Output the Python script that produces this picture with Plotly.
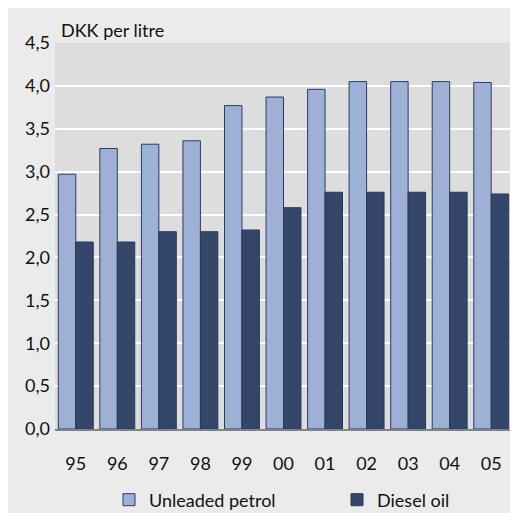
import plotly.graph_objects as go

years = ["95", "96", "97", "98", "99", "00", "01", "02", "03", "04", "05"]
unleaded_petrol = [2.97, 3.27, 3.32, 3.36, 3.77, 3.87, 3.96, 4.05, 4.05, 4.05, 4.04]
diesel_oil = [2.18, 2.18, 2.30, 2.30, 2.32, 2.58, 2.76, 2.76, 2.76, 2.76, 2.74]
y_ticks = [0, 0.5, 1.0, 1.5, 2.0, 2.5, 3.0, 3.5, 4.0, 4.5]

FONT = "Lato"
W, H = 510, 505
L, R, T, B = 47, 6, 35, 84
pw, ph = W - L - R, H - T - B

def px2x(px):
    return (px - L) / pw

def py2y(py):
    return (H - B - py) / ph

fig = go.Figure()
fig.add_trace(go.Bar(
    x=years, y=unleaded_petrol, name="Unleaded petrol", legend="legend",
    marker=dict(color="#9eb0d5", line=dict(color="#2e3d5c", width=1)),
))
fig.add_trace(go.Bar(
    x=years, y=diesel_oil, name="Diesel oil", legend="legend2",
    marker=dict(color="#344669", line=dict(color="#2a3856", width=1)),
))

fig.add_annotation(text="DKK per litre", xref="paper", yref="paper",
                   x=px2x(51), y=py2y(22), xanchor="left", yanchor="middle",
                   showarrow=False, font=dict(family=FONT, size=18, color="#111111"))

legend_common = dict(orientation="h", xanchor="left", yanchor="middle",
                     bgcolor="rgba(0,0,0,0)", font=dict(family=FONT, size=18, color="#111111"),
                     itemwidth=30)

fig.update_layout(
    width=W, height=H,
    margin=dict(l=L, r=R, t=T, b=B, pad=0, autoexpand=False),
    paper_bgcolor="#ebebeb", plot_bgcolor="#dddddd",
    barmode="group", bargap=0.16, bargroupgap=0.0,
    separators=",.",
    font=dict(family=FONT, size=17, color="#111111"),
    showlegend=True,
    legend=dict(x=px2x(101), y=py2y(492), **legend_common),
    legend2=dict(x=px2x(329), y=py2y(492), **legend_common),
    xaxis=dict(type="category", showgrid=False, ticks="",
               ticklabelstandoff=17, showline=True, linecolor="#7e838e", linewidth=2,
               tickfont=dict(family=FONT, size=18), zeroline=False),
    yaxis=dict(range=[0, 4.5], tickvals=y_ticks, tickformat=".1f",
               showgrid=True, gridcolor="white", gridwidth=2, zeroline=False,
               ticks="", ticklabelstandoff=4,
               tickfont=dict(family=FONT, size=18), showline=False),
)

fig.write_html("out.html")
